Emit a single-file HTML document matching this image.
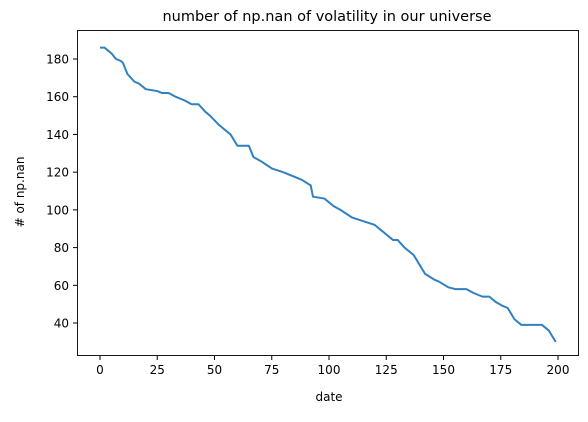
<!DOCTYPE html>
<html><head><meta charset="utf-8"><style>
body{margin:0;background:#fff;width:588px;height:417px;overflow:hidden;font-family:"Liberation Sans","DejaVu Sans",sans-serif}
</style></head><body>
<svg width="588" height="417" id="c" font-family="'DejaVu Sans','Liberation Sans',sans-serif">
<text x="327" y="21" font-size="14.5" text-anchor="middle" fill="#000">number of np.nan of volatility in our universe</text>
<text x="329" y="401" font-size="12" text-anchor="middle">date</text>
<text transform="translate(24,192) rotate(-90)" font-size="12" text-anchor="middle"># of np.nan</text>
<g id="ticks"></g>
<polyline id="line" fill="none" stroke="#2f81c0" stroke-width="2" stroke-linejoin="round"/>
<rect x="77.5" y="30.5" width="501" height="325" fill="none" stroke="#000" stroke-width="0.9"/>
</svg>
<script>
const dates=[0,2,5,7,9,10,12,15,17,20,25,27,30,33,37,40,43,46,48,52,57,60,65,67,70,75,80,84,88,92,93,98,102,105,110,115,120,124,128,130,133,137,139,142,146,148,152,155,160,163,167,170,173,176,178,181,184,188,193,196,199];
const nanCounts=[186,186,183,180,179,178,172,168,167,164,163,162,162,160,158,156,156,152,150,145,140,134,134,128,126,122,120,118,116,113,107,106,102,100,96,94,92,88,84,84,80,76,72,66,63,62,59,58,58,56,54,54,51,49,48,42,39,39,39,36,30];
const xTicks=[0,25,50,75,100,125,150,175,200];
const yTicks=[40,60,80,100,120,140,160,180];
const sx=d=>100+2.29*d, sy=v=>59+(180-v)*1.886;
const ns="http://www.w3.org/2000/svg";
document.getElementById('line').setAttribute('points',dates.map((d,i)=>sx(d)+','+sy(nanCounts[i])).join(' '));
const g=document.getElementById('ticks');
xTicks.forEach(t=>{
 const l=document.createElementNS(ns,'line');
 l.setAttribute('x1',sx(t));l.setAttribute('x2',sx(t));l.setAttribute('y1',356);l.setAttribute('y2',360);l.setAttribute('stroke','#000');
 
 
 g.appendChild(l);
 const tx=document.createElementNS(ns,'text');
 tx.setAttribute('x',sx(t));tx.setAttribute('y',374);tx.setAttribute('font-size','12');tx.setAttribute('text-anchor','middle');tx.textContent=t;
 
 
 g.appendChild(tx);
});
yTicks.forEach(t=>{
 const l=document.createElementNS(ns,'line');
 l.setAttribute('x1',73);l.setAttribute('x2',77);l.setAttribute('y1',sy(t));l.setAttribute('y2',sy(t));l.setAttribute('stroke','#000');
 
 
 g.appendChild(l);
 const tx=document.createElementNS(ns,'text');
 tx.setAttribute('x',69);tx.setAttribute('y',sy(t)+4.5);tx.setAttribute('font-size','12');tx.setAttribute('text-anchor','end');tx.textContent=t;
 
 
 g.appendChild(tx);
});
</script>
</body></html>
